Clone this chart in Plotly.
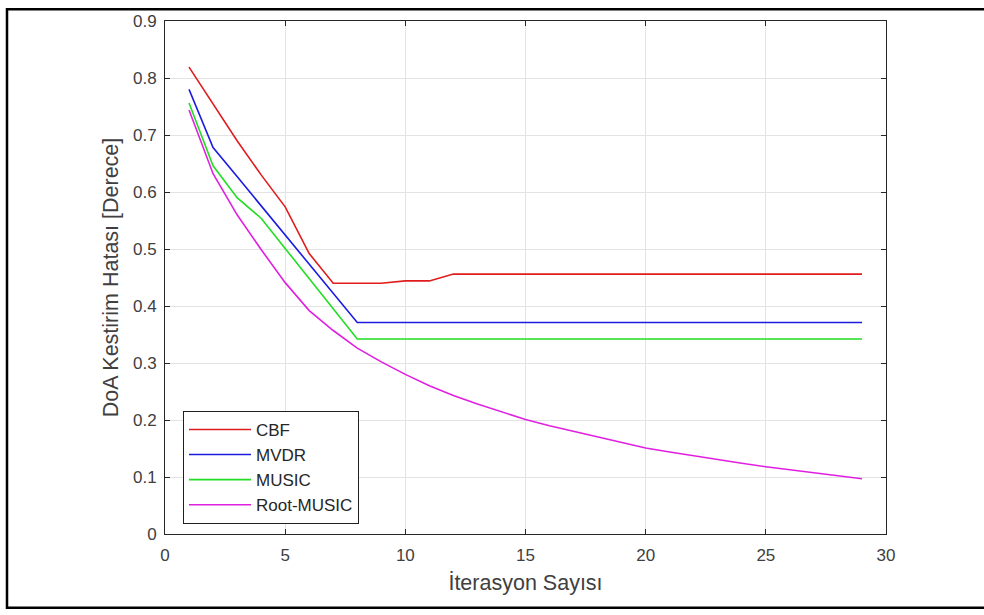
import plotly.graph_objects as go

iterations = list(range(1, 30))

cbf = [0.819, 0.755, 0.690, 0.630, 0.574, 0.492, 0.440, 0.440, 0.440, 0.444, 0.444, 0.456,
       0.456, 0.456, 0.456, 0.456, 0.456, 0.456, 0.456, 0.456, 0.456, 0.456, 0.456, 0.456,
       0.456, 0.456, 0.456, 0.456, 0.456]
mvdr = [0.780, 0.678, 0.627, 0.576, 0.525, 0.473, 0.422, 0.371, 0.371, 0.371, 0.371, 0.371,
        0.371, 0.371, 0.371, 0.371, 0.371, 0.371, 0.371, 0.371, 0.371, 0.371, 0.371, 0.371,
        0.371, 0.371, 0.371, 0.371, 0.371]
music = [0.756, 0.646, 0.590, 0.554, 0.501, 0.448, 0.395, 0.342, 0.342, 0.342, 0.342, 0.342,
         0.342, 0.342, 0.342, 0.342, 0.342, 0.342, 0.342, 0.342, 0.342, 0.342, 0.342, 0.342,
         0.342, 0.342, 0.342, 0.342, 0.342]
root_music = [0.744, 0.632, 0.560, 0.499, 0.441, 0.392, 0.357, 0.326, 0.302, 0.280, 0.260,
              0.243, 0.228, 0.214, 0.201, 0.190, 0.180, 0.170, 0.160, 0.151, 0.144, 0.137,
              0.130, 0.124, 0.118, 0.113, 0.108, 0.102, 0.097]

series_names = ["CBF", "MVDR", "MUSIC", "Root-MUSIC"]
series_values = [cbf, mvdr, music, root_music]
series_colors = ["#e01c1c", "#1c1ce0", "#22dd22", "#e020e0"]

x_ticks = [0, 5, 10, 15, 20, 25, 30]
y_ticks = [0, 0.1, 0.2, 0.3, 0.4, 0.5, 0.6, 0.7, 0.8, 0.9]
y_tick_labels = ["0", "0.1", "0.2", "0.3", "0.4", "0.5", "0.6", "0.7", "0.8", "0.9"]

FONT = "Liberation Sans, Arial"
TEXT_COLOR = "#404040"

fig = go.Figure()
for name, vals, col in zip(series_names, series_values, series_colors):
    fig.add_trace(go.Scatter(x=iterations, y=vals, mode="lines", name=name,
                             line=dict(color=col, width=1.6)))

axis_common = dict(
    showline=True, linecolor="#262626", linewidth=1, mirror="ticks",
    ticks="inside", ticklen=5, tickcolor="#262626", tickwidth=1,
    showgrid=True, gridcolor="#e3e3e3", gridwidth=1, zeroline=False,
    tickfont=dict(family=FONT, size=17, color=TEXT_COLOR),
)

fig.update_xaxes(range=[0, 30], tickvals=x_ticks, ticklabelstandoff=6, **axis_common,
                 title=dict(text="İterasyon Sayısı", standoff=10,
                            font=dict(family=FONT, size=21.5, color=TEXT_COLOR)))
fig.update_yaxes(range=[0, 0.9], tickvals=y_ticks, ticktext=y_tick_labels,
                 ticklabelstandoff=4, **axis_common,
                 title=dict(text="DoA Kestirim Hatası [Derece]", standoff=8,
                            font=dict(family=FONT, size=21.5, color=TEXT_COLOR)))

L, R, T, B = 165, 98, 13, 81
W, H = 984, 615
pw, ph = W - L - R, H - T - B

def px_x(p):
    return (p - L) / pw

def px_y(p):
    return (H - B - p) / ph

fig.update_layout(
    width=W, height=H,
    margin=dict(l=L, r=R, t=T, b=B),
    paper_bgcolor="white", plot_bgcolor="white",
    showlegend=True,
    legend=dict(x=px_x(183), y=px_y(409), xanchor="left", yanchor="top",
                bgcolor="white", bordercolor="#202020", borderwidth=1,
                font=dict(family=FONT, size=17, color="#262626"),
                tracegroupgap=0, itemwidth=62),
    shapes=[dict(type="rect", xref="paper", yref="paper",
                 x0=px_x(7), x1=px_x(995), y0=px_y(609), y1=px_y(1),
                 line=dict(color="black", width=2.5), fillcolor="rgba(0,0,0,0)", layer="above")],
)

fig.write_html("out.html", config={"displayModeBar": False},
               post_script="document.body.style.margin='0';document.body.style.overflow='hidden';")
